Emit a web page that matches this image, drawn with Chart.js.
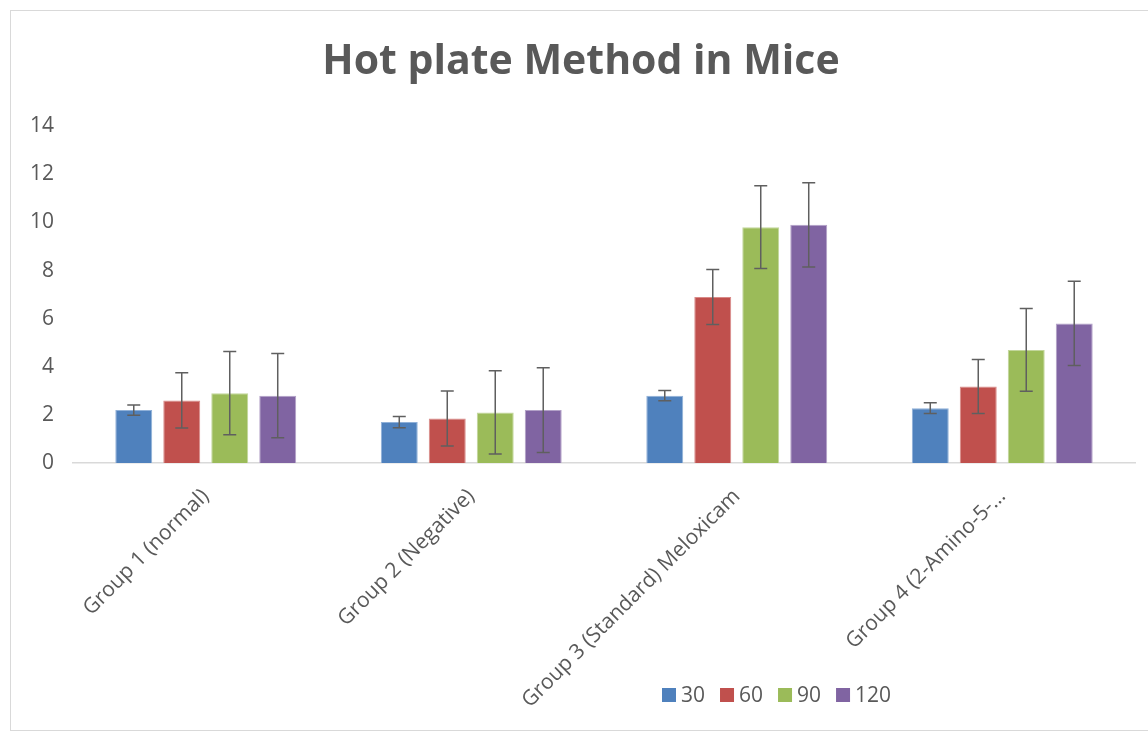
<!DOCTYPE html>
<html>
<head>
<meta charset="utf-8">
<script src="https://cdn.jsdelivr.net/npm/chart.js@4/dist/chart.umd.min.js"></script>
<style>
  body { margin: 0; background: #fff; overflow: hidden; }
  #box { position: absolute; left: 10px; top: 10px; width: 1152px; height: 719px; border: 1px solid #d9d9d9; background: #fff; }
</style>
</head>
<body>
<div id="box"><canvas id="grafico" width="1152" height="719"></canvas></div>
<script>
// datos
const grupos = ['Group 1 (normal)', 'Group 2 (Negative)', 'Group 3 (Standard) Meloxicam', 'Group 4 (2-Amino-5-…'];
const tiempos = ['30', '60', '90', '120'];
const min30 = [2.2, 1.7, 2.8, 2.28];
const min60 = [2.6, 1.85, 6.9, 3.18];
const min90 = [2.9, 2.1, 9.8, 4.7];
const min120 = [2.8, 2.2, 9.9, 5.8];
const err30 = [0.21, 0.23, 0.21, 0.22];
const err60 = [1.15, 1.14, 1.14, 1.12];
const err90 = [1.73, 1.73, 1.72, 1.72];
const err120 = [1.75, 1.76, 1.75, 1.75];
const yTicks = [0, 2, 4, 6, 8, 10, 12, 14];

const colores = ['#4F81BD', '#C0504D', '#9BBB59', '#8064A2'];
const bordes = ['#8fb0d8', '#d98a88', '#c2d69b', '#b2a1c7'];
const valores = [min30, min60, min90, min120];
const errores = [err30, err60, err90, err120];
const gris = '#595959';
const fuente = "'Open Sans', sans-serif";

// barras de error con la escala y
const barrasError = {
  id: 'barrasError',
  afterDatasetsDraw(chart) {
    const ctx = chart.ctx;
    const y = chart.scales.y;
    ctx.save();
    ctx.strokeStyle = '#5f5f5f';
    ctx.lineWidth = 1.5;
    chart.data.datasets.forEach((ds, i) => {
      chart.getDatasetMeta(i).data.forEach((bar, j) => {
        const v = ds.data[j], e = ds.errores[j];
        const top = y.getPixelForValue(v + e);
        const bot = y.getPixelForValue(v - e);
        ctx.beginPath();
        ctx.moveTo(bar.x, top); ctx.lineTo(bar.x, bot);
        ctx.moveTo(bar.x - 6.5, top); ctx.lineTo(bar.x + 6.5, top);
        ctx.moveTo(bar.x - 6.5, bot); ctx.lineTo(bar.x + 6.5, bot);
        ctx.stroke();
      });
    });
    ctx.restore();
  }
};

// leyenda abajo a la derecha como en Excel
const leyenda = {
  id: 'leyenda',
  afterDraw(chart) {
    const ctx = chart.ctx;
    ctx.save();
    ctx.font = '21px ' + fuente;
    ctx.textBaseline = 'middle';
    let x = 651;
    const yc = 684;
    chart.data.datasets.forEach(ds => {
      ctx.fillStyle = ds.backgroundColor;
      ctx.fillRect(x, yc - 7, 14, 14);
      x += 19;
      ctx.fillStyle = gris;
      ctx.fillText(ds.label, x, yc + 1);
      x += ctx.measureText(ds.label).width + 15;
    });
    ctx.restore();
  }
};

new Chart(document.getElementById('grafico'), {
  type: 'bar',
  data: {
    labels: grupos,
    datasets: tiempos.map((t, i) => ({
      label: t,
      data: valores[i],
      errores: errores[i],
      backgroundColor: colores[i],
      borderColor: bordes[i],
      borderWidth: 1,
      categoryPercentage: 0.723,
      barPercentage: 0.77,
    })),
  },
  options: {
    responsive: false,
    animation: false,
    layout: { padding: { left: 16, right: 28, top: 0, bottom: 0 } },
    plugins: {
      legend: { display: false },
      tooltip: { enabled: false },
      title: {
        display: true,
        text: 'Hot plate Method in Mice',
        color: gris,
        font: { family: fuente, size: 41, weight: 'bold' },
        padding: { top: 27, bottom: 39 },
      },
    },
    scales: {
      x: {
        grid: { display: false },
        border: { display: true, color: '#d9d9d9', width: 1.5 },
        ticks: { color: gris, font: { family: fuente, size: 21 }, minRotation: 45, maxRotation: 45, padding: 13 },
        afterFit(scale) { scale.height = 267; },
      },
      y: {
        min: 0,
        max: 14,
        afterBuildTicks(scale) { scale.ticks = yTicks.map(v => ({ value: v })); },
        grid: { display: false },
        border: { display: false },
        ticks: { color: gris, font: { family: fuente, size: 21 }, padding: 11 },
        afterFit(scale) { scale.width = 46; },
      },
    },
  },
  plugins: [barrasError, leyenda],
});
</script>
</body>
</html>
